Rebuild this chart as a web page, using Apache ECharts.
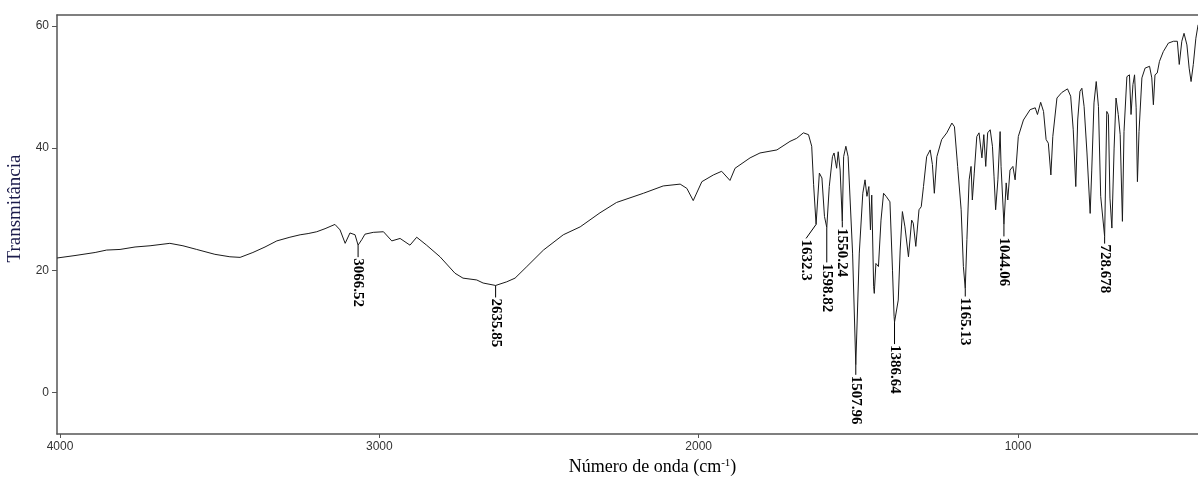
<!DOCTYPE html>
<html>
<head>
<meta charset="utf-8">
<script src="https://cdn.jsdelivr.net/npm/echarts@6/dist/echarts.min.js"></script>
<style>
html,body{margin:0;padding:0;background:#fff;}
#chart{width:1198px;height:480px;}
</style>
</head>
<body>
<div id="chart"></div>
<script>
// ---- Data ----
const wavenumbers = [4009, 3953, 3890, 3854, 3812, 3765, 3718, 3656, 3615, 3572, 3515, 3468, 3436, 3396, 3358, 3321, 3280, 3248, 3223, 3196, 3170, 3139, 3123, 3107, 3092, 3076, 3066.52, 3055, 3045, 3019, 2987, 2961, 2935, 2904, 2883, 2852, 2810, 2763, 2738, 2695, 2675, 2635.85, 2601, 2575, 2538, 2486, 2424, 2371, 2309, 2257, 2173, 2111, 2058, 2037, 2017, 1990, 1954, 1928, 1902, 1886, 1839, 1808, 1755, 1714, 1693, 1672, 1656, 1646, 1640, 1632.3, 1622, 1614, 1606, 1598.82, 1591, 1581, 1576, 1568, 1563, 1557, 1550.24, 1546, 1539, 1532, 1518, 1507.96, 1497, 1486, 1479, 1473, 1467, 1462, 1458, 1452, 1450, 1445, 1437, 1429, 1421, 1413, 1408, 1401, 1393, 1388, 1386.64, 1385, 1375, 1369, 1362, 1354, 1343, 1333, 1328, 1320, 1310, 1303, 1296, 1286, 1275, 1268, 1262, 1254, 1239, 1223, 1207, 1199, 1189, 1178, 1171, 1165.13, 1160, 1153, 1147, 1143, 1137, 1129, 1122, 1113, 1107, 1101, 1095, 1087, 1080, 1075, 1070, 1063, 1056, 1053, 1044.06, 1037, 1032, 1025, 1016, 1009, 999, 983, 962, 946, 939, 929, 920, 912, 905, 897, 891, 878, 863, 845, 835, 827, 819, 813, 806, 800, 793, 784, 774, 769, 762, 755, 748, 741, 728.678, 722, 717, 712, 706, 699, 693, 686, 680, 673, 668, 659, 651, 646, 640, 635, 630, 626, 621, 612, 602, 588, 581, 576, 571, 564, 557, 545, 529, 513, 501, 495, 487, 480, 471, 464, 458, 451, 443, 436];
const transmittance = [22.0, 22.4, 22.9, 23.3, 23.4, 23.8, 24.0, 24.4, 24.0, 23.4, 22.6, 22.2, 22.1, 22.9, 23.8, 24.8, 25.4, 25.8, 26.0, 26.3, 26.8, 27.5, 26.6, 24.4, 26.1, 25.8, 24.1, 25.0, 25.9, 26.2, 26.3, 24.8, 25.2, 24.1, 25.4, 24.1, 22.2, 19.5, 18.7, 18.4, 17.9, 17.5, 18.1, 18.7, 20.6, 23.3, 25.8, 27.1, 29.4, 31.1, 32.6, 33.8, 34.1, 33.4, 31.4, 34.5, 35.6, 36.2, 34.7, 36.7, 38.4, 39.2, 39.7, 41.1, 41.6, 42.5, 42.2, 40.3, 34.0, 27.5, 35.9, 35.1, 28.8, 27.0, 33.7, 38.6, 39.2, 36.7, 39.4, 36.4, 28.0, 38.6, 40.3, 38.6, 22.8, 4.5, 22.8, 32.6, 34.8, 32.1, 33.7, 26.6, 32.3, 17.3, 16.2, 21.1, 20.6, 28.2, 32.6, 32.1, 32.4, 31.2, 20.0, 12.4, 11.5, 12.0, 15.1, 23.3, 29.6, 27.1, 22.2, 28.2, 27.7, 23.9, 29.9, 30.4, 33.7, 38.6, 39.7, 37.3, 32.6, 38.6, 41.4, 42.5, 44.1, 43.5, 37.0, 29.9, 20.6, 17.0, 25.0, 34.8, 37.0, 31.5, 35.9, 41.9, 42.5, 38.4, 42.2, 37.0, 42.5, 43.0, 40.3, 35.3, 29.9, 34.8, 42.7, 37.0, 27.5, 34.3, 31.5, 36.4, 37.0, 34.8, 41.9, 44.6, 46.3, 46.6, 45.5, 47.5, 46.0, 41.4, 40.8, 35.6, 41.9, 48.2, 49.1, 49.7, 48.5, 43.0, 33.7, 44.6, 49.3, 49.8, 46.8, 39.2, 29.3, 36.4, 47.4, 50.9, 46.8, 32.1, 25.5, 46.0, 45.5, 31.8, 26.9, 40.0, 48.2, 45.5, 42.2, 28.0, 42.7, 51.7, 52.0, 45.5, 50.4, 52.0, 46.6, 34.5, 42.7, 51.5, 53.1, 53.4, 51.5, 47.1, 52.0, 52.3, 54.2, 55.8, 57.2, 57.5, 57.5, 53.7, 57.5, 58.8, 56.9, 53.1, 50.9, 53.7, 58.0, 60.2];

const peakWavenumbers = [3066.52, 2635.85, 1632.3, 1598.82, 1550.24, 1507.96, 1386.64, 1165.13, 1044.06, 728.678];
const peakTransmittance = [24.1, 17.5, 27.5, 27.0, 28.0, 4.5, 11.5, 17.0, 27.5, 25.5];
const peakLabels = ['3066.52', '2635.85', '1632.3', '1598.82', '1550.24', '1507.96', '1386.64', '1165.13', '1044.06', '728.678'];

const xTicks = [1000, 2000, 3000, 4000];
const yTicks = [0, 20, 40, 60];

// ---- Label layout (pixel styling, not data) ----
const leaderLength = [12, 12, 14, 35, 6, 10, 22, 8, 12, 7];
const leaderShiftX = [0, 0, -10, 0, 0, 0, 0, 0, 0, 0];

const spectrum = wavenumbers.map((w, i) => [w, transmittance[i]]);
const peaks = peakWavenumbers.map((w, i) => [w, peakTransmittance[i], i]);

const chart = echarts.init(document.getElementById('chart'), null, {renderer: 'canvas'});
const axisColor = '#555';
const plainNumber = v => String(v);
const tickFont = {fontFamily: '"Liberation Sans", Arial, sans-serif', fontSize: 12, color: '#333', formatter: plainNumber};
const serif = '"Liberation Serif", "Times New Roman", serif';

chart.setOption({
  animation: false,
  backgroundColor: '#fff',
  grid: {left: 57, right: 0, top: 15, bottom: 46, containLabel: false, outerBoundsMode: 'none'},
  xAxis: [{
    type: 'value',
    inverse: true,
    min: 436.3,
    max: 4009.4,
    position: 'bottom',
    splitLine: {show: false},
    axisLine: {show: true, onZero: false, lineStyle: {color: axisColor, width: 1.5}},
    axisTick: {show: true, length: 4, lineStyle: {color: axisColor, width: 1}, customValues: xTicks},
    axisLabel: Object.assign({margin: 7, customValues: xTicks}, tickFont),
    name: 'Número de onda (cm{sup|-1})',
    nameLocation: 'middle',
    nameGap: 24,
    nameTextStyle: {
      fontFamily: serif,
      fontSize: 18,
      color: '#000',
      padding: [0, 0, 0, 50],
      rich: {sup: {fontFamily: serif, fontSize: 11, verticalAlign: 'top', color: '#000'}}
    }
  }, {
    type: 'value',
    inverse: true,
    min: 436.3,
    max: 4009.4,
    position: 'top',
    splitLine: {show: false},
    axisLine: {show: true, onZero: false, lineStyle: {color: axisColor, width: 1.5}},
    axisTick: {show: false},
    axisLabel: {show: false}
  }],
  yAxis: {
    type: 'value',
    min: -6.83,
    max: 61.8,
    splitLine: {show: false},
    axisLine: {show: true, onZero: false, lineStyle: {color: axisColor, width: 1.5}},
    axisTick: {show: true, length: 5, lineStyle: {color: axisColor, width: 1}, customValues: yTicks},
    axisLabel: Object.assign({margin: 8, customValues: yTicks}, tickFont),
    name: 'Transmitância',
    nameLocation: 'middle',
    nameGap: 24,
    nameTextStyle: {
      fontFamily: serif,
      fontSize: 19,
      color: '#1c1c4c',
      padding: [0, 0, 0, 32]
    }
  },
  series: [{
    type: 'line',
    xAxisIndex: 0,
    data: spectrum,
    showSymbol: false,
    symbol: 'none',
    lineStyle: {color: '#1a1a1a', width: 1},
    silent: true
  }, {
    type: 'custom',
    xAxisIndex: 0,
    data: peaks,
    encode: {x: 0, y: 1},
    clip: false,
    silent: true,
    renderItem: function (params, api) {
      const i = api.value(2);
      const p = api.coord([api.value(0), api.value(1)]);
      const ex = p[0] + leaderShiftX[i];
      const ey = p[1] + leaderLength[i];
      return {
        type: 'group',
        children: [{
          type: 'line',
          shape: {x1: p[0], y1: p[1], x2: ex, y2: ey},
          style: {stroke: '#000', lineWidth: 1}
        }, {
          type: 'text',
          x: ex,
          y: ey + 1,
          rotation: -Math.PI / 2,
          style: {
            text: peakLabels[i],
            fill: '#000',
            font: 'bold 15px "Liberation Serif", "Times New Roman", serif',
            align: 'left',
            verticalAlign: 'middle'
          }
        }]
      };
    }
  }]
});
</script>
</body>
</html>
